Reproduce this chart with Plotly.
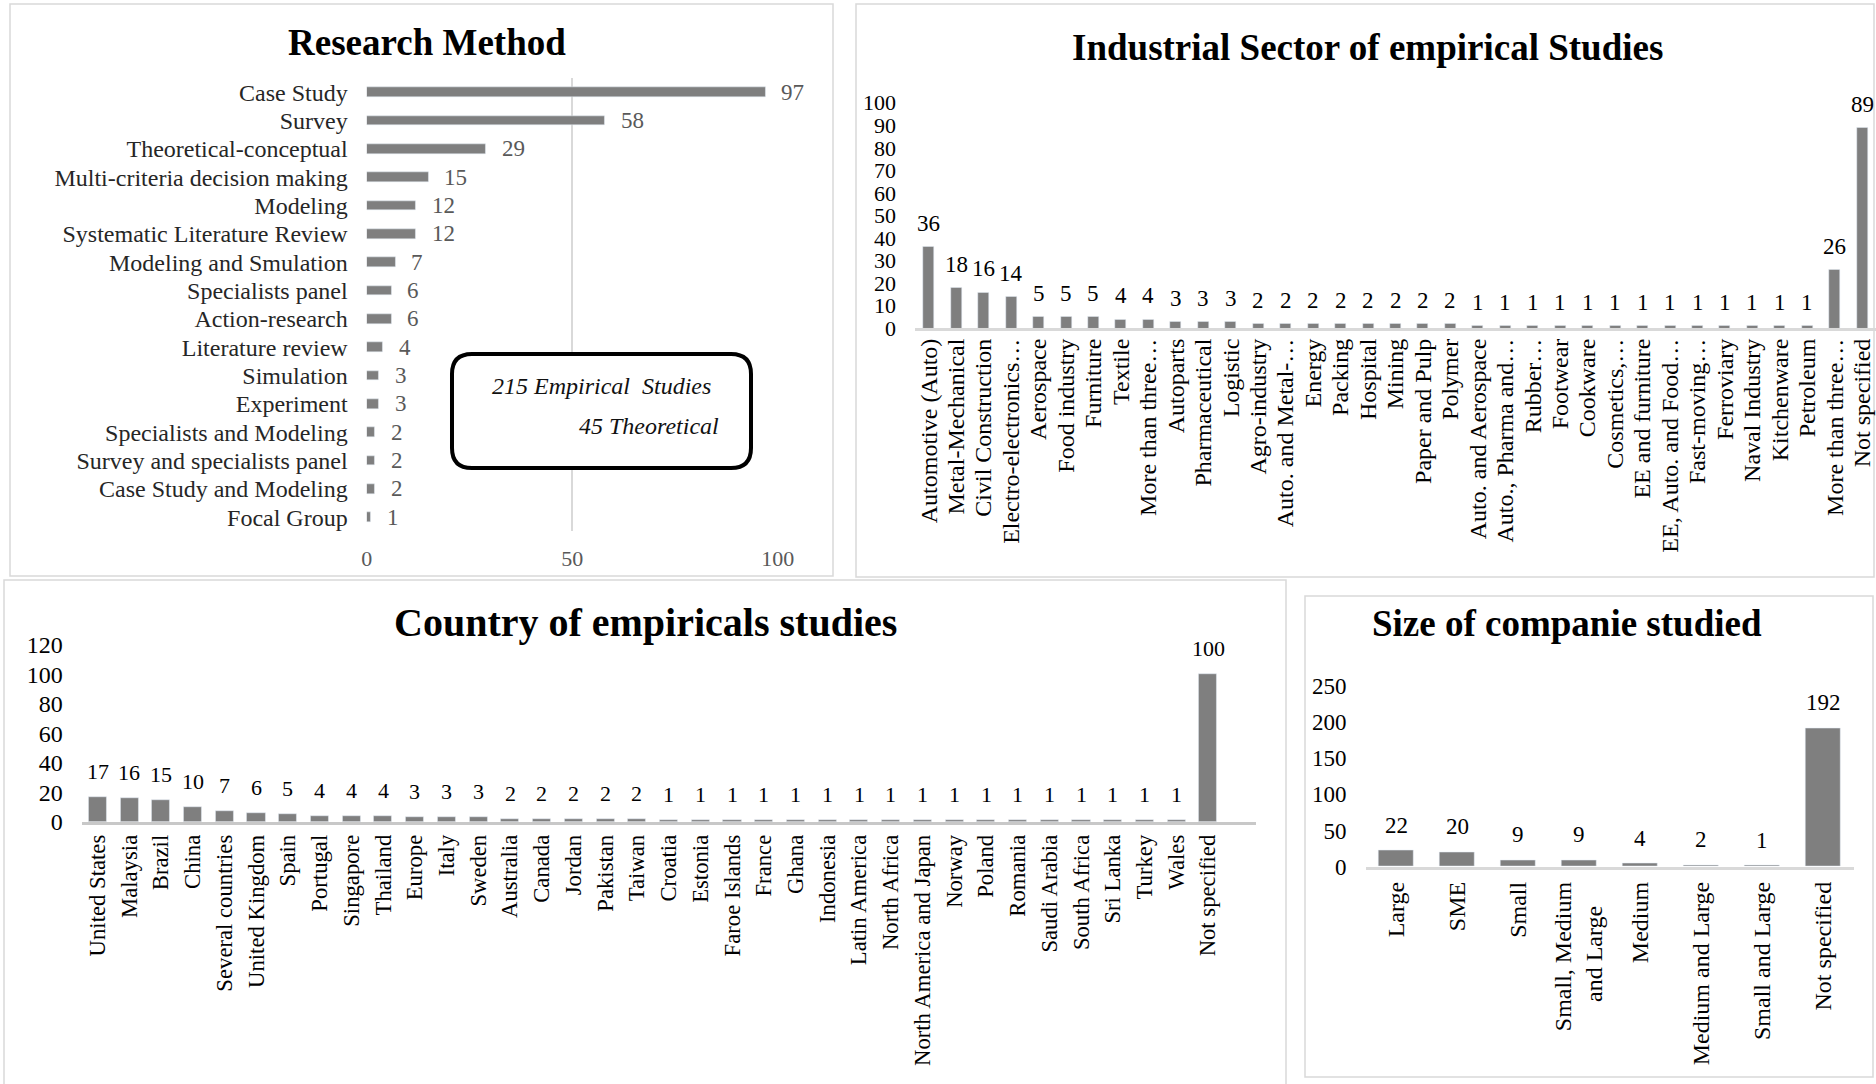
import plotly.graph_objects as go

W, H = 1876, 1084

# ---------------- data ----------------
method_labels = ["Case Study", "Survey", "Theoretical-conceptual", "Multi-criteria decision making",
                 "Modeling", "Systematic Literature Review", "Modeling and Smulation", "Specialists panel",
                 "Action-research", "Literature review", "Simulation", "Experiment",
                 "Specialists and Modeling", "Survey and specialists panel", "Case Study and Modeling",
                 "Focal Group"]
method_values = [97, 58, 29, 15, 12, 12, 7, 6, 6, 4, 3, 3, 2, 2, 2, 1]

sector_labels = ["Automotive (Auto)", "Metal-Mechanical", "Civil Construction", "Electro-electronics…",
                 "Aerospace", "Food industry", "Furniture", "Textile", "More than three…", "Autoparts",
                 "Pharmaceutical", "Logistic", "Agro-industry", "Auto. and Metal-…", "Energy", "Packing",
                 "Hospital", "Mining", "Paper and Pulp", "Polymer", "Auto. and Aerospace",
                 "Auto., Pharma and…", "Rubber…", "Footwear", "Cookware", "Cosmetics,…",
                 "EE and furniture", "EE, Auto. and Food…", "Fast-moving…", "Ferroviary",
                 "Naval Industry", "Kitchenware", "Petroleum", "More than three…", "Not specified"]
sector_values = [36, 18, 16, 14, 5, 5, 5, 4, 4, 3, 3, 3, 2, 2, 2, 2, 2, 2, 2, 2,
                 1, 1, 1, 1, 1, 1, 1, 1, 1, 1, 1, 1, 1, 26, 89]

country_labels = ["United States", "Malaysia", "Brazil", "China", "Several countries", "United Kingdom",
                  "Spain", "Portugal", "Singapore", "Thailand", "Europe", "Italy", "Sweden", "Australia",
                  "Canada", "Jordan", "Pakistan", "Taiwan", "Croatia", "Estonia", "Faroe Islands",
                  "France", "Ghana", "Indonesia", "Latin America", "North Africa",
                  "North America and Japan", "Norway", "Poland", "Romania", "Saudi Arabia",
                  "South Africa", "Sri Lanka", "Turkey", "Wales", "Not specified"]
country_values = [17, 16, 15, 10, 7, 6, 5, 4, 4, 4, 3, 3, 3, 2, 2, 2, 2, 2,
                  1, 1, 1, 1, 1, 1, 1, 1, 1, 1, 1, 1, 1, 1, 1, 1, 1, 100]

size_labels = ["Large", "SME", "Small", "Small, Medium<br>and Large\u00a0\u00a0\u00a0\u00a0", "Medium",
               "Medium and Large", "Small and Large", "Not specified"]
size_values = [22, 20, 9, 9, 4, 2, 1, 192]

method_ticks = [0, 50, 100]

# ---------------- styling ----------------
SERIF = "Liberation Serif"
BAR = "#7f7f7f"
GRID = "#d9d9d9"


def px_x(p):
    return p / W


def px_y(p):
    return 1 - p / H


fig = go.Figure()

m_idx = list(range(len(method_labels)))
s_idx = list(range(len(sector_labels)))
c_idx = list(range(len(country_labels)))
z_idx = list(range(len(size_labels)))

fig.add_trace(go.Bar(x=method_values, y=m_idx, orientation="h", marker_color=BAR,
                     width=0.34, xaxis="x", yaxis="y"))
fig.add_trace(go.Bar(x=s_idx, y=sector_values, marker_color=BAR, width=0.4,
                     xaxis="x2", yaxis="y2"))
fig.add_trace(go.Bar(x=c_idx, y=country_values, marker_color=BAR, width=0.57,
                     xaxis="x3", yaxis="y3"))
fig.add_trace(go.Bar(x=z_idx, y=size_values, marker_color=BAR, width=0.57,
                     xaxis="x4", yaxis="y4"))

annotations = []
# data labels
for i, v in enumerate(method_values):
    annotations.append(dict(x=v, y=i, xref="x", yref="y", text=str(v), showarrow=False,
                            xanchor="left", yanchor="middle", xshift=14,
                            font=dict(family=SERIF, size=23, color="#595959")))
for i, v in enumerate(sector_values):
    annotations.append(dict(x=i, y=v, xref="x2", yref="y2", text=str(v), showarrow=False,
                            xanchor="center", yanchor="bottom", yshift=9,
                            font=dict(family=SERIF, size=23, color="#000000")))
for i, v in enumerate(country_values):
    annotations.append(dict(x=i, y=v, xref="x3", yref="y3", text=str(v), showarrow=False,
                            xanchor="center", yanchor="bottom", yshift=11,
                            font=dict(family=SERIF, size=22, color="#000000")))
for i, v in enumerate(size_values):
    annotations.append(dict(x=i, y=v, xref="x4", yref="y4", text=str(v), showarrow=False,
                            xanchor="center", yanchor="bottom", yshift=11,
                            font=dict(family=SERIF, size=23, color="#000000")))

# titles
titles = [("Research Method", 427, 43, 37),
          ("Industrial Sector of empirical Studies", 1367, 48, 37),
          ("Country of empiricals studies", 645, 622, 40),
          ("Size of companie studied", 1567, 623, 37)]
for t, cx, cy, fs in titles:
    annotations.append(dict(x=px_x(cx), y=px_y(cy), xref="paper", yref="paper", text="<b>" + t + "</b>",
                            showarrow=False, xanchor="center", yanchor="middle",
                            font=dict(family=SERIF, size=fs, color="#000000")))

# text box in Research Method
annotations.append(dict(x=px_x(601), y=px_y(386), xref="paper", yref="paper",
                        text="<i>215 Empirical\u00a0 Studies</i>", showarrow=False,
                        xanchor="center", yanchor="middle",
                        font=dict(family=SERIF, size=24, color="#111111")))
annotations.append(dict(x=px_x(649), y=px_y(426), xref="paper", yref="paper",
                        text="<i>45 Theoretical</i>", showarrow=False,
                        xanchor="center", yanchor="middle",
                        font=dict(family=SERIF, size=24, color="#111111")))

shapes = []
# panel frames
for (x0, y0, x1, y1) in [(10, 4, 833, 576), (856, 4, 1874, 577), (4, 580, 1286, 1086),
                         (1305, 596, 1873, 1077)]:
    shapes.append(dict(type="rect", xref="paper", yref="paper", x0=px_x(x0), x1=px_x(x1),
                       y0=px_y(y1), y1=px_y(y0), line=dict(color=GRID, width=1.5),
                       fillcolor="rgba(0,0,0,0)", layer="below"))

# rounded box
bx0, by0, bx1, by1, r = 452, 354, 751, 468, 20


def P(x, y):
    return f"{px_x(x):.6f},{px_y(y):.6f}"


path = (f"M {P(bx0 + r, by0)} L {P(bx1 - r, by0)} Q {P(bx1, by0)} {P(bx1, by0 + r)} "
        f"L {P(bx1, by1 - r)} Q {P(bx1, by1)} {P(bx1 - r, by1)} "
        f"L {P(bx0 + r, by1)} Q {P(bx0, by1)} {P(bx0, by1 - r)} "
        f"L {P(bx0, by0 + r)} Q {P(bx0, by0)} {P(bx0 + r, by0)} Z")
shapes.append(dict(type="path", xref="paper", yref="paper", path=path,
                   line=dict(color="#000000", width=4), fillcolor="#ffffff", layer="above"))

common = dict(automargin=False, showgrid=False, zeroline=False, ticks="")

fig.update_layout(
    width=W, height=H, autosize=False,
    margin=dict(l=0, r=0, t=0, b=0, pad=0, autoexpand=False),
    paper_bgcolor="#ffffff", plot_bgcolor="#ffffff",
    showlegend=False, bargap=0,
    annotations=annotations, shapes=shapes,
    font=dict(family=SERIF, color="#000000"),
    # Panel 1
    xaxis=dict(common, domain=[px_x(366.7), px_x(777.7)], range=[0, 100], tickvals=method_ticks,
               showgrid=True, gridcolor=GRID, gridwidth=2, showline=False,
               ticklabelstandoff=12, anchor="y",
               tickfont=dict(family=SERIF, size=22, color="#595959")),
    yaxis=dict(common, domain=[px_y(531.4), px_y(78.1)], range=[len(method_labels) - 0.5, -0.5],
               tickvals=m_idx, ticktext=method_labels, showline=False,
               ticklabelstandoff=18, anchor="x",
               tickfont=dict(family=SERIF, size=24, color="#262626")),
    # Panel 2
    xaxis2=dict(common, domain=[px_x(915), 1.0], range=[-0.5, len(sector_labels) - 0.5],
                tickvals=s_idx, ticktext=sector_labels, tickangle=-90,
                showline=True, linecolor=GRID, linewidth=2.5,
                ticklabelstandoff=-2, anchor="y2",
                tickfont=dict(family=SERIF, size=24, color="#000000")),
    yaxis2=dict(common, domain=[px_y(328.3), px_y(102.7)], range=[0, 100], dtick=10,
                showline=False, ticklabelstandoff=18, anchor="x2",
                tickfont=dict(family=SERIF, size=22, color="#000000")),
    # Panel 3
    xaxis3=dict(common, domain=[px_x(81.7), px_x(1255.7)], range=[-0.5, len(country_labels) + 0.5],
                tickvals=c_idx, ticktext=country_labels, tickangle=-90,
                showline=True, linecolor="#c8c8c8", linewidth=3,
                ticklabelstandoff=1, anchor="y3",
                tickfont=dict(family=SERIF, size=22.7, color="#000000")),
    yaxis3=dict(common, domain=[px_y(821.7), px_y(645)], range=[0, 120], dtick=20,
                showline=False, ticklabelstandoff=18, anchor="x3",
                tickfont=dict(family=SERIF, size=24, color="#000000")),
    # Panel 4
    xaxis4=dict(common, domain=[px_x(1365.5), px_x(1853.5)], range=[-0.5, len(size_labels) - 0.5],
                tickvals=z_idx, ticktext=size_labels, tickangle=-90,
                showline=True, linecolor=GRID, linewidth=2.5,
                ticklabelstandoff=3, anchor="y4",
                tickfont=dict(family=SERIF, size=24, color="#000000")),
    yaxis4=dict(common, domain=[px_y(866.5), px_y(686.3)], range=[0, 250], dtick=50,
                showline=False, ticklabelstandoff=18, anchor="x4",
                tickfont=dict(family=SERIF, size=23, color="#000000")),
)

fig.write_html("out.html")
